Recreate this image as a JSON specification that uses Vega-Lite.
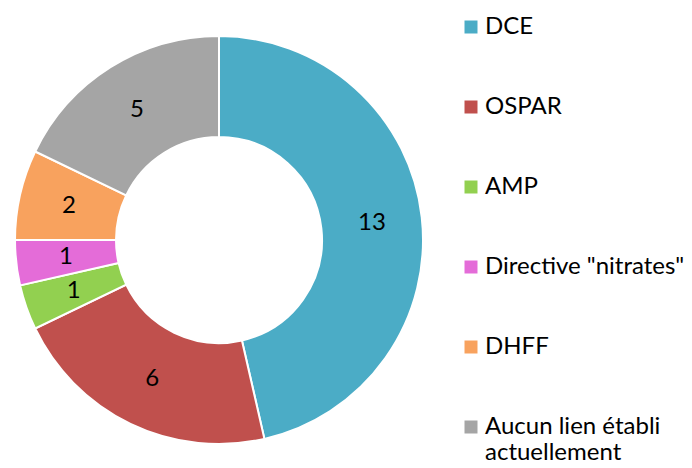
{
  "$schema": "https://vega.github.io/schema/vega-lite/v6.json",
  "width": 438,
  "height": 480,
  "padding": 0,
  "background": "white",
  "data": {
    "values": [
      {"idx": 1, "cat": "DCE", "n": 13},
      {"idx": 2, "cat": "OSPAR", "n": 6},
      {"idx": 3, "cat": "AMP", "n": 1},
      {"idx": 4, "cat": "Directive \"nitrates\"", "n": 1},
      {"idx": 5, "cat": "DHFF", "n": 2},
      {"idx": 6, "cat": "Aucun lien établi actuellement", "n": 5}
    ]
  },
  "encoding": {
    "theta": {"field": "n", "type": "quantitative", "stack": true},
    "order": {"field": "idx", "type": "quantitative"}
  },
  "layer": [
    {
      "mark": {"type": "arc", "outerRadius": 204, "innerRadius": 103, "stroke": "white", "strokeWidth": 2},
      "encoding": {
        "color": {
          "field": "cat",
          "type": "nominal",
          "sort": null,
          "scale": {
            "domain": ["DCE", "OSPAR", "AMP", "Directive \"nitrates\"", "DHFF", "Aucun lien établi actuellement"],
            "range": ["#4BACC6", "#C0504D", "#92D050", "#E46CD8", "#F8A25E", "#A5A5A5"]
          },
          "legend": {
            "title": null,
            "orient": "none",
            "legendX": 459,
            "legendY": 15,
            "symbolType": "square",
            "symbolSize": 169,
            "symbolStrokeWidth": 0,
            "labelFont": "Lato",
            "labelFontSize": 24,
            "labelColor": "black",
            "labelOffset": 2,
            "labelLimit": 300,
            "rowPadding": 56,
            "labelBaseline": "middle",
            "labelExpr": "datum.label == 'Aucun lien établi actuellement' ? ['Aucun lien établi', 'actuellement'] : datum.label",
            "encoding": {"labels": {"update": {"dy": {"signal": "datum.label == 'Aucun lien établi actuellement' ? 15 : 0"}, "lineHeight": {"value": 31}}}}
          }
        }
      }
    },
    {
      "mark": {"type": "text", "radius": 154, "font": "Lato", "fontSize": 24, "color": "black"},
      "encoding": {"text": {"field": "n", "type": "quantitative"}}
    }
  ],
  "config": {"view": {"stroke": null}}
}
